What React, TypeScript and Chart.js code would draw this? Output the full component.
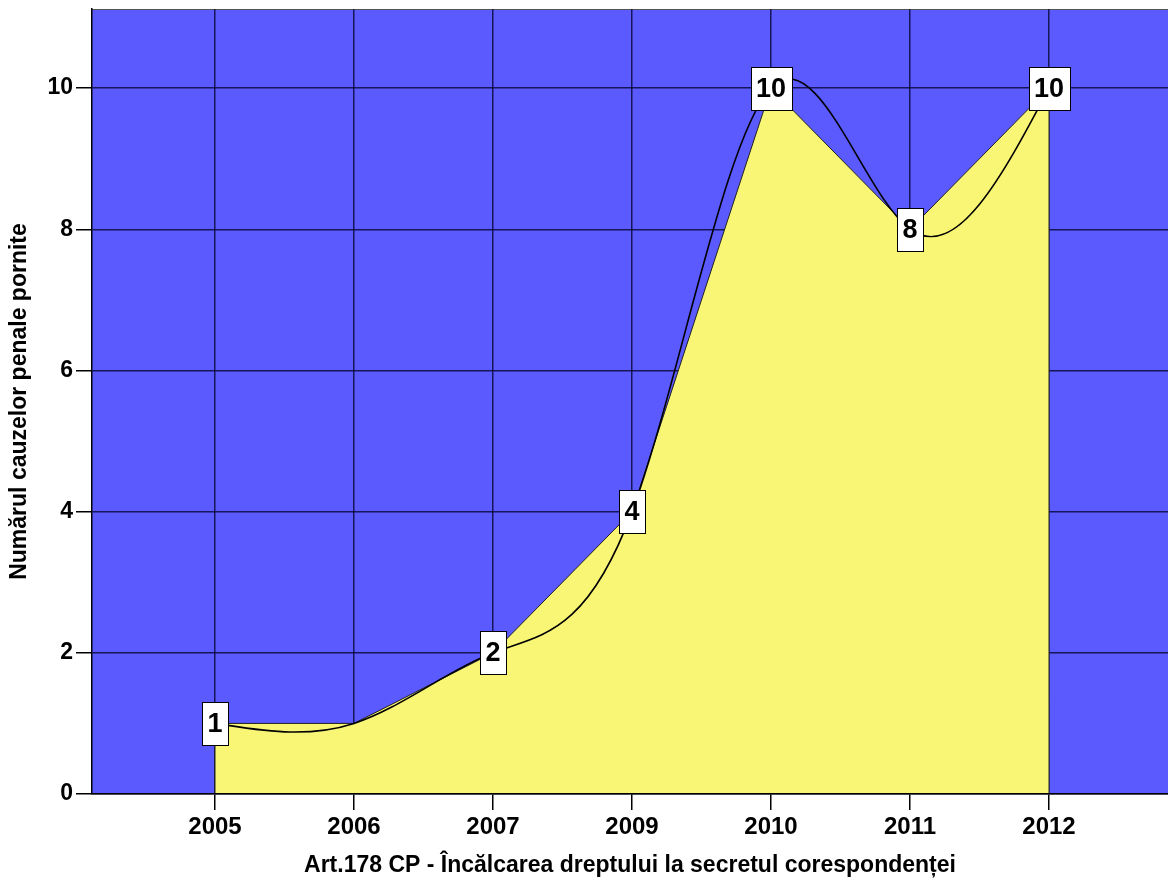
import React, { useEffect, useRef } from 'react';
import { Chart, registerables } from 'chart.js';

Chart.register(...registerables);

const years = ['2005', '2006', '2007', '2009', '2010', '2011', '2012'];
const cases = [1, 1, 2, 4, 10, 8, 10];
const labelShown = [true, false, true, true, true, true, true];
const yTickValues = [0, 2, 4, 6, 8, 10];
const xTitle = 'Art.178 CP - Încălcarea dreptului la secretul corespondenței';
const yTitle = 'Numărul cauzelor penale pornite';

const BLUE = '#5a5aff';
const YELLOW = '#faf675';
const GRID = 'rgba(10,10,60,0.85)';
const FONT = "'Liberation Sans', Arial, sans-serif";

function splineSecondDerivs(y: number[]): number[] {
  const n = y.length;
  const M = new Array(n).fill(0);
  if (n < 3) return M;
  const c = new Array(n).fill(0);
  const d = new Array(n).fill(0);
  for (let i = 1; i < n - 1; i++) {
    const rhs = 6 * (y[i + 1] - 2 * y[i] + y[i - 1]);
    const denom = 4 - (i > 1 ? c[i - 1] : 0);
    c[i] = 1 / denom;
    d[i] = (rhs - (i > 1 ? d[i - 1] : 0)) / denom;
  }
  for (let i = n - 2; i >= 1; i--) M[i] = d[i] - c[i] * M[i + 1];
  return M;
}

const decorPlugin = {
  id: 'decor',
  beforeDraw(chart: any) {
    const { ctx, chartArea: a } = chart;
    ctx.save();
    ctx.fillStyle = BLUE;
    ctx.fillRect(a.left, a.top, a.right - a.left, a.bottom - a.top);
    ctx.strokeStyle = '#555';
    ctx.lineWidth = 1;
    ctx.beginPath();
    ctx.moveTo(a.left, a.top + 0.5);
    ctx.lineTo(a.right, a.top + 0.5);
    ctx.stroke();
    ctx.restore();
  },
  afterDatasetsDraw(chart: any) {
    const { ctx } = chart;
    const xs = chart.scales.x;
    const ys = chart.scales.y;
    const n = cases.length;
    const px = (v: number) => xs.getPixelForValue(v);
    const py = (v: number) => ys.getPixelForValue(v);
    ctx.save();
    // vertical edges of the area
    ctx.strokeStyle = '#222';
    ctx.lineWidth = 1;
    ctx.beginPath();
    ctx.moveTo(px(0), py(cases[0]));
    ctx.lineTo(px(0), py(0));
    ctx.moveTo(px(n - 1), py(cases[n - 1]));
    ctx.lineTo(px(n - 1), py(0));
    ctx.stroke();
    // interpolation spline
    const M = splineSecondDerivs(cases);
    ctx.strokeStyle = '#000';
    ctx.lineWidth = 1.6;
    ctx.beginPath();
    ctx.moveTo(px(0), py(cases[0]));
    for (let i = 0; i < n - 1; i++) {
      const y0 = cases[i];
      const y1 = cases[i + 1];
      const d0 = (y1 - y0) - (2 * M[i] + M[i + 1]) / 6;
      const d1 = (y1 - y0) + (M[i] + 2 * M[i + 1]) / 6;
      ctx.bezierCurveTo(
        px(i + 1 / 3), py(y0 + d0 / 3),
        px(i + 2 / 3), py(y1 - d1 / 3),
        px(i + 1), py(y1)
      );
    }
    ctx.stroke();
    // data labels
    ctx.font = `bold 27px ${FONT}`;
    ctx.textAlign = 'center';
    ctx.textBaseline = 'middle';
    for (let i = 0; i < n; i++) {
      if (!labelShown[i]) continue;
      const text = String(cases[i]);
      const w = Math.round(ctx.measureText(text).width + 11);
      const h = 43;
      const cx = px(i);
      const cy = py(cases[i]);
      const bx = Math.round(cx - w / 2) + 0.5;
      const by = Math.round(cy - h / 2) + 0.5;
      ctx.fillStyle = '#fff';
      ctx.fillRect(bx, by, w, h);
      ctx.strokeStyle = '#000';
      ctx.lineWidth = 1;
      ctx.strokeRect(bx, by, w, h);
      ctx.fillStyle = '#000';
      ctx.fillText(text, cx, cy + 1);
    }
    ctx.restore();
  },
};

export default function App() {
  const ref = useRef<HTMLCanvasElement>(null);
  useEffect(() => {
    if (!ref.current) return;
    const chart = new Chart(ref.current, {
      type: 'line',
      data: {
        datasets: [
          {
            data: cases.map((v, i) => ({ x: i, y: v })),
            backgroundColor: YELLOW,
            borderColor: '#222',
            borderWidth: 1,
            fill: 'origin',
            tension: 0,
            pointRadius: 0,
          },
        ],
      },
      plugins: [decorPlugin],
      options: {
        animation: false,
        responsive: true,
        maintainAspectRatio: false,
        layout: { padding: { top: 9, right: 0, left: 0, bottom: 0 } },
        plugins: { legend: { display: false }, tooltip: { enabled: false } },
        scales: {
          x: {
            type: 'linear',
            min: -0.885,
            max: 6.856,
            afterBuildTicks: (s: any) => {
              s.ticks = years.map((_, i) => ({ value: i }));
            },
            afterFit: (s: any) => {
              s.height = 93;
              s.paddingLeft = 0;
              s.paddingRight = 0;
            },
            ticks: {
              autoSkip: false,
              maxRotation: 0,
              padding: 3,
              color: '#000',
              font: { family: FONT, size: 24, weight: 'bold' },
              callback: (v: any) => years[v] ?? '',
            },
            grid: { color: GRID, lineWidth: 1.5, tickLength: 16, tickColor: '#000', tickWidth: 1.5 },
            border: { color: '#000', width: 1.5, z: 1 },
            title: {
              display: true,
              text: xTitle,
              color: '#000',
              font: { family: FONT, size: 23, weight: 'bold', lineHeight: 1 },
              padding: { top: 0, bottom: 10 },
            },
          },
          y: {
            type: 'linear',
            min: 0,
            max: 11.12,
            afterBuildTicks: (s: any) => {
              s.ticks = yTickValues.map((v) => ({ value: v }));
            },
            afterFit: (s: any) => {
              s.width = 92;
              s.paddingTop = 0;
              s.paddingBottom = 0;
            },
            ticks: {
              padding: 3,
              color: '#000',
              font: { family: FONT, size: 23, weight: 'bold' },
            },
            grid: { color: GRID, lineWidth: 1.5, tickLength: 16, tickColor: '#000', tickWidth: 1.5 },
            border: { color: '#000', width: 1.5, z: 1 },
            title: {
              display: true,
              text: yTitle,
              color: '#000',
              font: { family: FONT, size: 23, weight: 'bold', lineHeight: 1 },
              padding: { top: 8, bottom: 0 },
            },
          },
        },
      } as any,
    });
    return () => chart.destroy();
  }, []);
  return (
    <div style={{ position: 'absolute', left: 0, top: 0, width: 1168, height: 887 }}>
      <canvas ref={ref} />
    </div>
  );
}
